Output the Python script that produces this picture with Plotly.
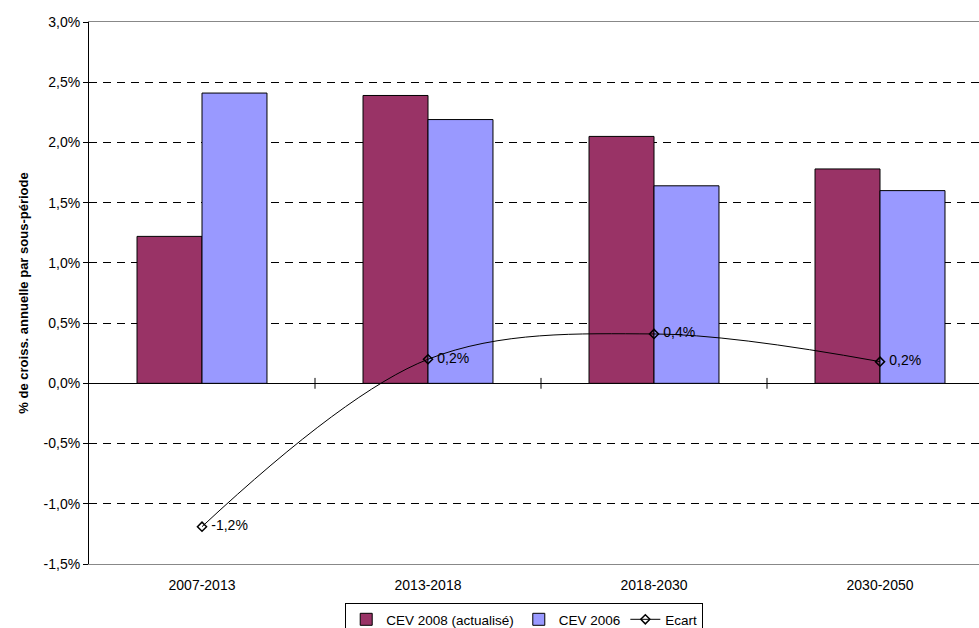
import plotly.graph_objects as go

categories = ["2007-2013", "2013-2018", "2018-2030", "2030-2050"]
cev2008 = [1.22, 2.39, 2.05, 1.78]
cev2006 = [2.41, 2.19, 1.64, 1.60]
ecart = [-1.19, 0.20, 0.41, 0.18]
y_ticks = [-1.5, -1.0, -0.5, 0.0, 0.5, 1.0, 1.5, 2.0, 2.5, 3.0]
y_ticktext = [f"{v:.1f}%".replace(".", ",") for v in y_ticks]

FONT = "Liberation Sans, Arial, sans-serif"
FS = 14

fig = go.Figure()
fig.add_trace(go.Bar(
    x=categories, y=cev2008, name="CEV 2008 (actualisé)",
    marker=dict(color="#993366", line=dict(color="#000000", width=1)),
))
fig.add_trace(go.Bar(
    x=categories, y=cev2006, name="CEV 2006",
    marker=dict(color="#9999FF", line=dict(color="#000000", width=1)),
))
fig.add_trace(go.Scatter(
    x=categories, y=ecart, name="Ecart", mode="lines+markers+text",
    line=dict(color="#000000", width=1, shape="spline", smoothing=1),
    marker=dict(symbol="diamond-open", size=7, color="#000000", line=dict(width=1.5)),
    texttemplate="\u00a0%{y:.1f}%", textposition="middle right",
    textfont=dict(size=FS, color="#000000", family=FONT),
))

# category boundary tick marks crossing the zero line
for b in [0.5, 1.5, 2.5]:
    fig.add_shape(type="line", xref="x", yref="y", x0=b, x1=b, y0=-0.045, y1=0.045,
                  line=dict(color="#000000", width=1))

fig.update_layout(
    width=979, height=628,
    margin=dict(l=89, r=0, t=22, b=64, autoexpand=False),
    paper_bgcolor="white", plot_bgcolor="white",
    separators=", ",
    font=dict(family=FONT, size=FS, color="#000000"),
    barmode="group", bargap=0.425, bargroupgap=0,
    showlegend=True,
    legend=dict(orientation="h", x=0.489, xanchor="center", y=-0.072, yanchor="top",
                bordercolor="#000000", borderwidth=1, font=dict(size=13.5, family=FONT),
                itemwidth=30, tracegroupgap=0),
)
fig.update_xaxes(
    type="category", range=[-0.5, 3.438],
    showline=True, linecolor="#888888", linewidth=1, mirror=True,
    showgrid=False, ticks="", ticklabelstandoff=8,
    tickfont=dict(size=FS, family=FONT),
)
fig.update_yaxes(
    range=[-1.5, 3.0], tickmode="array", tickvals=y_ticks, ticktext=y_ticktext,
    showline=True, linecolor="#000000", linewidth=1,
    ticks="outside", ticklen=5, tickcolor="#000000",
    showgrid=True, gridcolor="#000000", gridwidth=1, griddash="8px,6px",
    zeroline=True, zerolinecolor="#000000", zerolinewidth=1,
    tickfont=dict(size=FS, family=FONT),
    title=dict(text="<b>% de croiss. annuelle par sous-période</b>", standoff=12,
               font=dict(size=13, family=FONT)),
)

fig.write_html("out.html")
